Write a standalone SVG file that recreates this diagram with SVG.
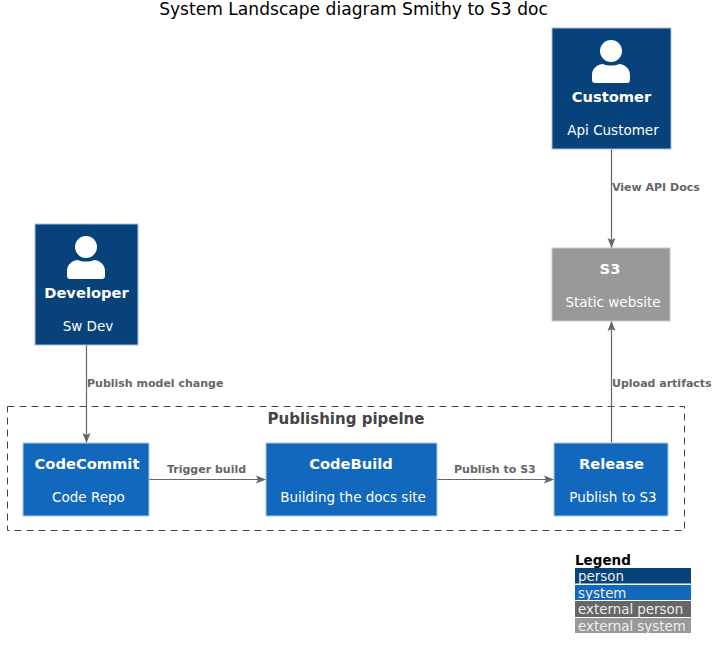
<svg xmlns="http://www.w3.org/2000/svg" width="718" height="655" viewBox="0 0 718 655">
<style>
text{font-family:"DejaVu Sans","Open Sans",sans-serif;text-anchor:middle}
.box{stroke-width:1}
.p{fill:#08427B;stroke:#A9C0D8}
.s{fill:#1168BD;stroke:#A9CCEE}
.x{fill:#999999;stroke:#C8C8C8}
.t{font-size:14.700px;font-weight:700;fill:#fff}
.d{font-size:13.500px;fill:#fff}
.l{font-size:11px;font-weight:700;fill:#666;text-anchor:start}
.c{stroke:#666;stroke-width:1.2;fill:none}
.lg{font-size:13.400px;fill:#eee;text-anchor:start}
</style>
<defs>
<marker id="a" markerWidth="11" markerHeight="10" refX="10" refY="5" orient="auto" markerUnits="userSpaceOnUse"><path d="M0 1L10 5L0 9L2 5Z" fill="#666"/></marker>
<g id="person"><circle cx="0" cy="0" r="11" fill="#fff"/><path d="M-19 29V24C-19 17 -13 13 -8 13C-4 15 4 15 8 13C13 13 19 17 19 24V29C19 31 18 32 16 32H-16C-18 32 -19 31 -19 29Z" fill="#fff"/></g>
</defs>
<text x="353.500" y="15" font-size="17.100" fill="#000">System Landscape diagram Smithy to S3 doc</text>
<g id="boundary"><rect x="7.500" y="406.500" width="677" height="124" fill="none" stroke="#444" stroke-width="1" stroke-dasharray="7 5"/><text x="346" y="424" font-size="15" font-weight="700" fill="#444">Publishing pipelne</text></g>
<g id="connectors">
<path class="c" d="M611.500 149V248" marker-end="url(#a)"/>
<path class="c" d="M611.500 443V321" marker-end="url(#a)"/>
<path class="c" d="M86.500 345V443" marker-end="url(#a)"/>
<path class="c" d="M149 479.500H266" marker-end="url(#a)"/>
<path class="c" d="M437 479.500H554" marker-end="url(#a)"/>
<text class="l" x="612" y="191">View API Docs</text>
<text class="l" x="612" y="387">Upload artifacts</text>
<text class="l" x="87" y="387">Publish model change</text>
<text class="l" x="167" y="473">Trigger build</text>
<text class="l" x="454" y="473">Publish to S3</text>
</g>
<g id="customer"><rect class="box p" x="552" y="28" width="119" height="121"/><use href="#person" x="611" y="51"/><text class="t" x="611.500" y="102">Customer</text><text class="d" x="613" y="135">Api Customer</text></g>
<g id="developer"><rect class="box p" x="35" y="224" width="103" height="121"/><use href="#person" x="86" y="247"/><text class="t" x="86.500" y="298">Developer</text><text class="d" x="88" y="331">Sw Dev</text></g>
<g id="s3"><rect class="box x" x="552" y="248" width="118" height="73"/><text class="t" x="610" y="274">S3</text><text class="d" x="613" y="307">Static website</text></g>
<g id="codecommit"><rect class="box s" x="23" y="443" width="126" height="73"/><text class="t" x="87" y="469">CodeCommit</text><text class="d" x="88.500" y="502">Code Repo</text></g>
<g id="codebuild"><rect class="box s" x="266" y="443" width="171" height="73"/><text class="t" x="351" y="469">CodeBuild</text><text class="d" x="353" y="502">Building the docs site</text></g>
<g id="release"><rect class="box s" x="554" y="443" width="114" height="73"/><text class="t" x="611.500" y="469">Release</text><text class="d" x="613" y="502">Publish to S3</text></g>
<g id="legend">
<text x="575" y="565" font-size="13.500" font-weight="700" fill="#000" style="text-anchor:start">Legend</text>
<rect x="575" y="568" width="116" height="15.500" fill="#08427B"/><text class="lg" x="578" y="581">person</text>
<rect x="575" y="585" width="116" height="15" fill="#1168BD"/><text class="lg" x="578" y="598">system</text>
<rect x="575" y="601" width="116" height="16" fill="#666666"/><text class="lg" x="578" y="614">external person</text>
<rect x="575" y="618" width="116" height="15" fill="#999999"/><text class="lg" x="578" y="631">external system</text>
</g>
</svg>
